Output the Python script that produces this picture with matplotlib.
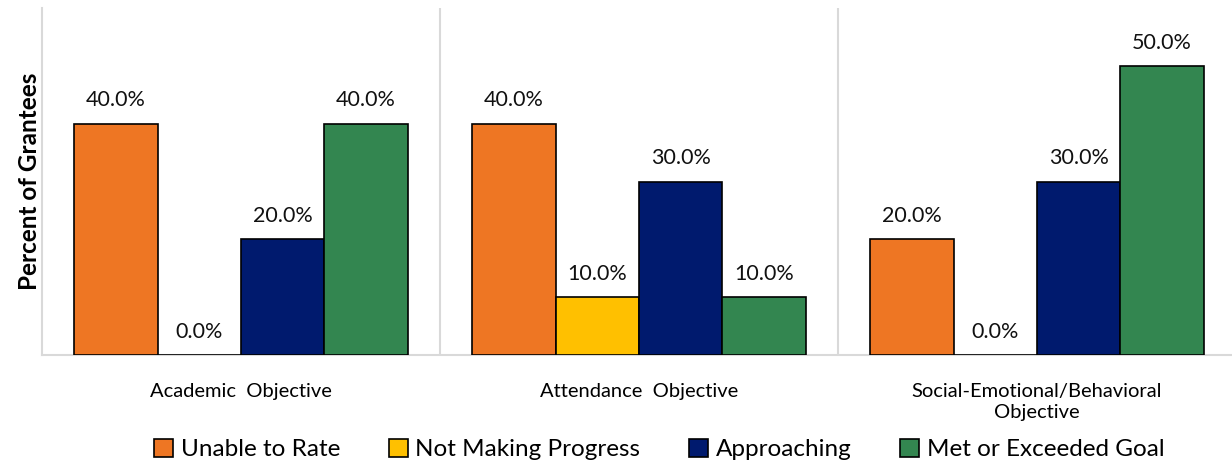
import matplotlib.pyplot as plt
import numpy as np

plt.rcParams['font.family'] = ['Lato', 'DejaVu Sans']

categories = ["Academic  Objective", "Attendance  Objective",
              "Social-Emotional/Behavioral\nObjective"]
series = ["Unable to Rate", "Not Making Progress", "Approaching", "Met or Exceeded Goal"]
unable = [40.0, 40.0, 20.0]
not_making = [0.0, 10.0, 0.0]
approaching = [20.0, 30.0, 30.0]
met = [40.0, 10.0, 50.0]
colors = ["#EE7623", "#FFC000", "#001A6E", "#338650"]

values = [unable, not_making, approaching, met]

fig = plt.figure(figsize=(12.32, 4.66), dpi=100)
# the right edge of the plot area runs past the picture, as in the original
ax = fig.add_axes([42 / 1232, 1 - 355 / 466, (1236 - 42) / 1232, (355 - 8) / 466])

x = np.arange(len(categories))
width = 0.2095
for i, (name, vals) in enumerate(zip(series, values)):
    pos = x + (i - 1.5) * width
    ax.bar(pos, vals, width, color=colors[i], edgecolor="black", linewidth=1.2,
           label=name, zorder=3)
    for p, v in zip(pos, vals):
        ax.text(p, v + 2.3, f"{v:.1f}%", ha="center", va="bottom", fontsize=15.5,
                color="#111111")

ax.set_xlim(-0.5, 2.5)
ax.set_ylim(0, 60)
ax.set_yticks([])
ax.set_xticks(x)
ax.set_xticklabels(categories, fontsize=14.5, linespacing=1.3)
ax.tick_params(axis="x", length=0, pad=20)
for s in ["top", "right"]:
    ax.spines[s].set_visible(False)
for s in ["left", "bottom"]:
    ax.spines[s].set_color("#D9D9D9")
    ax.spines[s].set_linewidth(1.5)
for sep in [0.5, 1.5]:
    ax.axvline(sep, color="#D9D9D9", linewidth=1.5, zorder=1)

ax.set_ylabel("Percent of Grantees", fontsize=17.5, fontweight="bold", labelpad=1)

fig.legend(loc="lower center", bbox_to_anchor=(0.535, -0.035), ncol=4, frameon=False,
           fontsize=17.5, handlelength=0.8, handleheight=0.8, handletextpad=0.3,
           columnspacing=2.0)

fig.savefig("out.png", dpi=100)
